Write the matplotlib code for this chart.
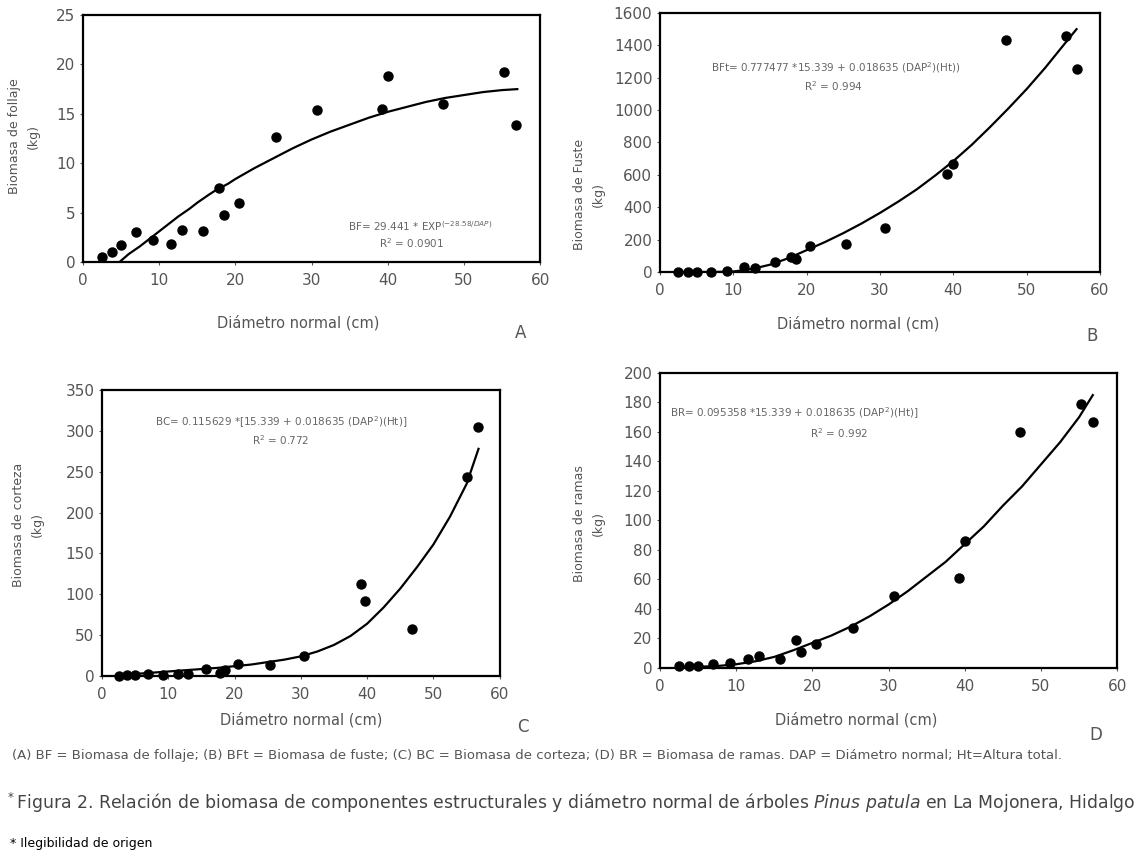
import numpy as np
import matplotlib.pyplot as plt

# diametro normal (cm), mismos arboles en los 4 paneles
dap = [2.5, 3.8, 5.0, 7.0, 9.2, 11.5, 13.0, 15.7, 17.8, 18.5, 20.5, 25.3, 30.7, 39.2, 40.0, 47.2, 55.3, 56.8]
dap_c = [2.5, 3.8, 5.0, 7.0, 9.2, 11.5, 13.0, 15.7, 17.8, 18.5, 20.5, 25.3, 30.5, 39.0, 39.7, 46.8, 55.1, 56.7]

bf = [0.5, 1.0, 1.7, 3.0, 2.2, 1.8, 3.2, 3.1, 7.5, 4.8, 6.0, 12.7, 15.4, 15.5, 18.8, 16.0, 19.2, 13.9]
bft = [0, 0, 0, 0, 5, 30, 25, 60, 90, 80, 160, 175, 270, 605, 665, 1430, 1460, 1255]
bc = [0, 1, 1, 2, 1, 3, 3, 9, 4, 7, 15, 13, 25, 112, 92, 58, 243, 305]
br = [1, 1.5, 1.5, 2.5, 3.5, 6, 8, 6, 19, 11, 16, 27, 49, 61, 86, 160, 179, 167]

# curvas ajustadas
fit_x_a = [4.8, 6, 7.5, 9, 10, 11.5, 12.5, 14, 15, 16.5, 17.5, 19, 20, 22.5, 25, 27.5, 30, 32.5, 35, 37.5, 40, 42.5, 45, 47.5, 50, 52.5, 55, 57]
fit_a = [0, 0.8, 1.6, 2.5, 3.1, 4.0, 4.6, 5.4, 6.0, 6.8, 7.3, 7.9, 8.4, 9.5, 10.5, 11.5, 12.4, 13.2, 13.9, 14.6, 15.2, 15.7, 16.2, 16.6, 16.9, 17.2, 17.4, 17.5]
fit_x_b = [2.5, 5, 7.5, 10, 12.5, 15, 17.5, 20, 22.5, 25, 27.5, 30, 32.5, 35, 37.5, 40, 42.5, 45, 47.5, 50, 52.5, 55, 56.8]
fit_b = [0, 0, 0, 3, 18, 45, 85, 135, 185, 240, 300, 365, 435, 510, 595, 685, 785, 895, 1010, 1130, 1260, 1400, 1500]
fit_x_c = [2.5, 5, 7.5, 10, 12.5, 15, 17.5, 20, 22.5, 25, 27.5, 30, 32.5, 35, 37.5, 40, 42.5, 45, 47.5, 50, 52.5, 55, 56.8]
fit_c = [1, 2.5, 4, 5.5, 7, 8.5, 10, 12, 14, 17, 20, 24, 30, 38, 49, 64, 84, 107, 133, 161, 195, 235, 278]
fit_x_d = [2.5, 5, 7.5, 10, 12.5, 15, 17.5, 20, 22.5, 25, 27.5, 30, 32.5, 35, 37.5, 40, 42.5, 45, 47.5, 50, 52.5, 55, 56.8]
fit_d = [0.5, 0.8, 1.3, 2.5, 4.5, 7.5, 12, 17, 22, 28, 35, 43, 52, 62, 72, 84, 96, 110, 123, 138, 153, 170, 185]

gray = '#555555'
plt.rcParams['font.family'] = 'DejaVu Sans'

fig = plt.figure(figsize=(11.43, 8.64), dpi=100)

paneles = [
    # rect, x, y, curva x, curva y, ylabel, ylim, ystep, letra, label coords
    ([0.0726, 0.6968, 0.40, 0.2858], dap, bf, fit_x_a, fit_a, 'Biomasa de follaje\n(kg)', 25, 5, 'A', (-0.095, 0.51), (0.47, -0.215)),
    ([0.5774, 0.6852, 0.385, 0.2998], dap, bft, fit_x_b, fit_b, 'Biomasa de Fuste\n(kg)', 1600, 200, 'B', (-0.125, 0.3), (0.45, -0.168)),
    ([0.0892, 0.2176, 0.348, 0.331], dap_c, bc, fit_x_c, fit_c, 'Biomasa de corteza\n(kg)', 350, 50, 'C', (-0.145, 0.53), (0.50, -0.125)),
    ([0.5774, 0.2269, 0.40, 0.3414], dap, br, fit_x_d, fit_d, 'Biomasa de ramas\n(kg)', 200, 20, 'D', (-0.12, 0.49), (0.43, -0.15)),
]

axs = []
for rect, xs, ys, cx, cy, ylab, ymax, ystep, letra, ylc, xlc in paneles:
    ax = fig.add_axes(rect)
    ax.plot(cx, cy, color='black', lw=1.6)
    ax.plot(xs, ys, 'o', color='black', ms=6.5, clip_on=False, zorder=3)
    ax.set_xlim(0, 60)
    ax.set_ylim(0, ymax)
    ax.set_xticks(range(0, 61, 10))
    ax.set_yticks(range(0, ymax + 1, ystep))
    ax.tick_params(labelsize=11, colors=gray, length=2, width=0.8)
    ax.tick_params(axis='x', pad=6)
    for s in ax.spines.values():
        s.set_linewidth(1.6)
        s.set_color('black')
    ax.set_ylabel(ylab, fontsize=9, color=gray, linespacing=1.6)
    ax.yaxis.set_label_coords(*ylc)
    ax.set_xlabel('Diámetro normal (cm)', fontsize=10.5, color=gray)
    ax.xaxis.set_label_coords(*xlc)
    axs.append(ax)

ax_a, ax_b, ax_c, ax_d = axs
eq = dict(fontsize=7.5, color='#666666', ha='center', va='center')

ax_a.text(44.3, 3.6, 'BF= 29.441 * EXP$^{(-28.58/DAP)}$', **eq)
ax_a.text(43.1, 1.9, 'R$^2$ = 0.0901', **eq)
ax_b.text(24.0, 1260, 'BFt= 0.777477 *15.339 + 0.018635 (DAP$^2$)(Ht))', **eq)
ax_b.text(23.6, 1150, 'R$^2$ = 0.994', **eq)
ax_c.text(27.1, 310, 'BC= 0.115629 *[15.339 + 0.018635 (DAP$^2$)(Ht)]', **eq)
ax_c.text(27.0, 289, 'R$^2$ = 0.772', **eq)
ax_d.text(17.6, 173, 'BR= 0.095358 *15.339 + 0.018635 (DAP$^2$)(Ht)]', **eq)
ax_d.text(23.5, 159, 'R$^2$ = 0.992', **eq)

# letras de panel
fig.text(521 / 1143, 1 - 333 / 864, 'A', fontsize=12, color=gray, ha='center', va='center')
fig.text(1092 / 1143, 1 - 336 / 864, 'B', fontsize=12, color=gray, ha='center', va='center')
fig.text(523 / 1143, 1 - 727 / 864, 'C', fontsize=12, color=gray, ha='center', va='center')
fig.text(1096 / 1143, 1 - 735 / 864, 'D', fontsize=12, color=gray, ha='center', va='center')

fig.text(12 / 1143, 1 - 755 / 864,
         '(A) BF = Biomasa de follaje; (B) BFt = Biomasa de fuste; (C) BC = Biomasa de corteza; '
         '(D) BR = Biomasa de ramas. DAP = Diámetro normal; Ht=Altura total.',
         fontsize=9.5, color=gray, va='center')
fig.text(5 / 1143, 1 - 803 / 864,
         '$^*$Figura 2. Relación de biomasa de componentes estructurales y diámetro normal de árboles '
         '$\\it{Pinus\\ patula}$ en La Mojonera, Hidalgo',
         fontsize=12.4, color='#444444', va='center')
fig.text(10 / 1143, 1 - 843 / 864, '* Ilegibilidad de origen', fontsize=9,
         color='black', va='center', family='Liberation Sans Narrow')

fig.savefig('out.png', dpi=100)
